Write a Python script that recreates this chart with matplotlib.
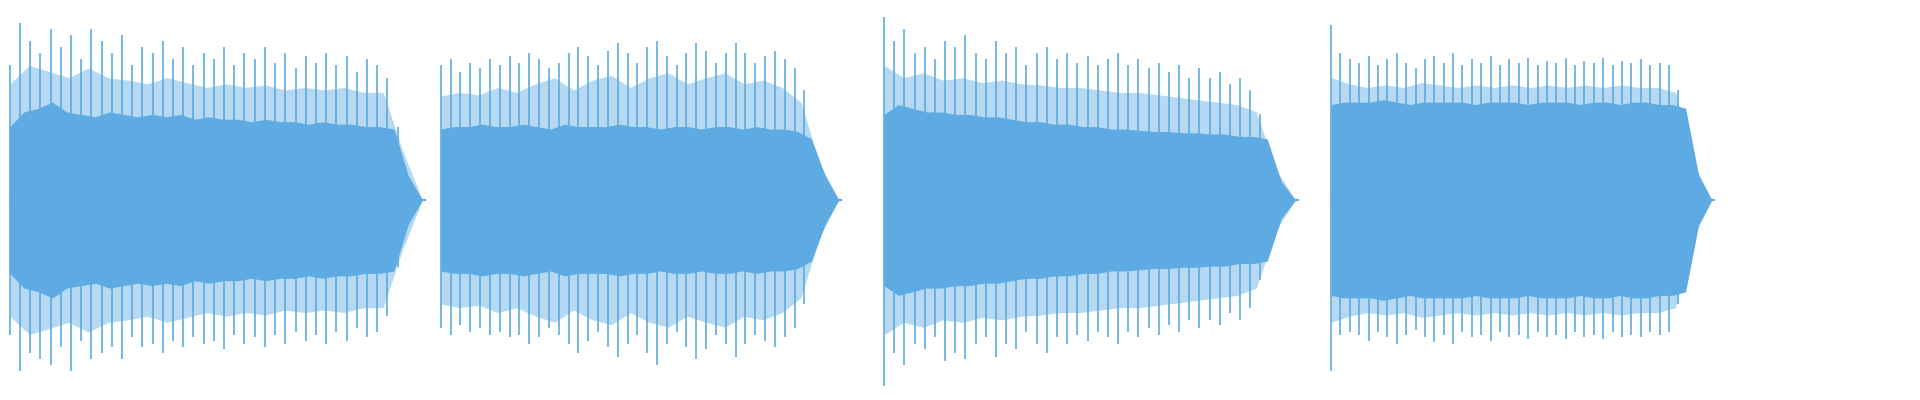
import matplotlib
matplotlib.use("Agg")
import matplotlib.pyplot as plt
import numpy as np

# segment extents (x units, 0..1568 across the figure)
seg_start = [8, 360, 722, 1087]
seg_end = [345, 685, 1058, 1398]
# core envelope amplitude per segment (sampled evenly, y units: +-163.5 is figure edge)
core = [
    [60, 72, 75, 80, 72, 70, 68, 72, 70, 68, 70, 68, 70, 66, 68, 66, 66, 64, 66, 64, 64, 62, 64, 62, 62, 60, 60, 58, 20, 0],
    [58, 60, 60, 62, 60, 60, 62, 60, 58, 62, 60, 60, 60, 62, 60, 60, 58, 60, 60, 58, 60, 60, 58, 60, 58, 58, 56, 50, 20, 0],
    [70, 78, 75, 72, 72, 70, 70, 68, 68, 66, 64, 64, 62, 62, 60, 60, 58, 58, 57, 56, 56, 55, 55, 54, 54, 52, 52, 50, 15, 0],
    [78, 80, 80, 80, 82, 80, 78, 80, 80, 80, 80, 78, 80, 80, 80, 78, 80, 80, 80, 78, 80, 80, 78, 80, 80, 78, 78, 75, 20, 0],
]
# intermediate (dense texture) envelope
mid = [
    [95, 110, 105, 100, 108, 100, 98, 95, 100, 96, 92, 95, 92, 94, 90, 92, 90, 92, 88, 88, 40, 0],
    [85, 88, 86, 92, 88, 95, 100, 90, 98, 102, 92, 100, 104, 95, 100, 104, 95, 98, 92, 80, 30, 0],
    [110, 100, 104, 98, 100, 96, 98, 95, 94, 92, 92, 90, 88, 88, 86, 84, 82, 80, 78, 72, 25, 0],
    [100, 95, 92, 94, 92, 96, 94, 92, 94, 92, 94, 92, 94, 92, 94, 92, 94, 92, 92, 88, 30, 0],
]
# spike amplitudes up / down
spike_up = [
    [110, 145, 130, 120, 140, 125, 135, 115, 140, 130, 120, 135, 110, 125, 120, 130, 115, 125, 110, 120,
     115, 125, 110, 120, 115, 125, 112, 120, 108, 118, 112, 120, 110, 118, 105, 115, 110, 100, 60, 10],
    [110, 115, 105, 112, 108, 115, 110, 118, 112, 120, 115, 108, 112, 120, 125, 118, 110, 122, 128, 120,
     112, 125, 130, 118, 110, 120, 128, 122, 112, 120, 128, 120, 112, 118, 122, 115, 108, 90, 40, 5],
    [150, 130, 140, 120, 125, 115, 130, 125, 135, 120, 115, 130, 120, 125, 110, 120, 125, 115, 120, 112,
     118, 110, 115, 120, 110, 115, 108, 112, 105, 110, 100, 108, 100, 105, 95, 100, 90, 70, 30, 5],
    [143, 120, 115, 112, 118, 110, 115, 120, 112, 108, 115, 118, 112, 120, 110, 115, 112, 118, 110, 115,
     112, 116, 110, 114, 112, 116, 110, 114, 112, 116, 110, 114, 112, 115, 110, 112, 110, 90, 40, 5],
]
spike_down = [
    [110, 140, 125, 130, 135, 120, 140, 115, 130, 125, 120, 130, 112, 120, 118, 125, 115, 120, 112, 118,
     115, 122, 110, 118, 112, 120, 110, 118, 108, 115, 110, 118, 108, 115, 105, 112, 108, 95, 55, 10],
    [105, 110, 102, 108, 105, 110, 108, 112, 110, 118, 112, 105, 110, 118, 125, 115, 108, 120, 128, 118,
     110, 125, 135, 118, 108, 120, 130, 122, 110, 118, 128, 118, 110, 115, 120, 112, 105, 85, 35, 5],
    [152, 125, 135, 118, 122, 112, 132, 125, 130, 118, 112, 128, 118, 122, 108, 118, 125, 112, 118, 110,
     115, 108, 112, 118, 108, 112, 105, 110, 102, 108, 98, 105, 98, 102, 92, 98, 88, 65, 28, 5],
    [140, 110, 108, 110, 115, 108, 112, 118, 110, 106, 112, 116, 110, 118, 108, 112, 110, 115, 108, 112,
     110, 114, 108, 112, 110, 114, 108, 112, 110, 114, 108, 112, 110, 112, 108, 110, 108, 85, 35, 5],
]

color = "#5DABE2"
fig = plt.figure(figsize=(19.2, 4.0), dpi=100)
ax = fig.add_axes([0, 0, 1, 1])
ax.set_xlim(0, 1568)
ax.set_ylim(-163.5, 163.5)
ax.axis("off")

for s, e, c, m, up, dn in zip(seg_start, seg_end, core, mid, spike_up, spike_down):
    xm = np.linspace(s, e, len(m))
    ax.fill_between(xm, [-v for v in m], m, color=color, alpha=0.45, lw=0)
    xs = np.linspace(s, e - 12, len(up))
    ax.vlines(xs, [-d for d in dn], up, color=color, lw=1.2)
    xc = np.linspace(s, e, len(c))
    ax.fill_between(xc, [-v for v in c], c, color=color, lw=0)
    ax.plot([s, e + 2], [0, 0], color=color, lw=1.5)

fig.savefig("out.png", dpi=100)
